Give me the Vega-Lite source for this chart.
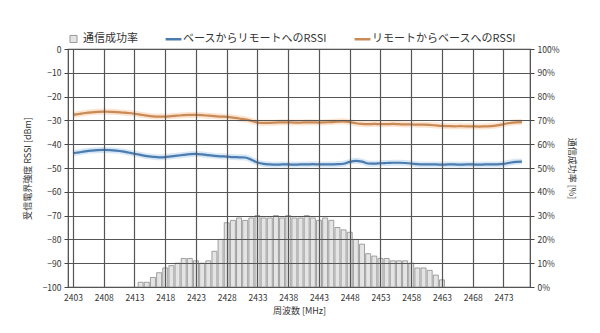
{
  "$schema": "https://vega.github.io/schema/vega-lite/v6.json",
  "autosize": {"type": "none"},
  "width": 462,
  "height": 238,
  "padding": {"left": 68, "top": 49, "right": 70, "bottom": 46},
  "background": "white",
  "config": {
    "font": "Noto Sans CJK JP",
    "view": {"stroke": "#444", "strokeWidth": 1.2},
    "axis": {"labelFontSize": 8.5, "labelColor": "#333", "titleFontSize": 9, "titleFontWeight": "normal", "titleColor": "#333", "gridColor": "#555", "gridWidth": 1.2, "gridOpacity": 1, "tickColor": "#444", "domain": false, "labelOverlap": false}
  },
  "datasets": {
    "rate": [
      {"f": 2414, "rate": 2}, {"f": 2415, "rate": 2}, {"f": 2416, "rate": 4}, {"f": 2417, "rate": 6},
      {"f": 2418, "rate": 8}, {"f": 2419, "rate": 9}, {"f": 2420, "rate": 10}, {"f": 2421, "rate": 12},
      {"f": 2422, "rate": 12}, {"f": 2423, "rate": 11}, {"f": 2424, "rate": 10}, {"f": 2425, "rate": 11},
      {"f": 2426, "rate": 15}, {"f": 2427, "rate": 20}, {"f": 2428, "rate": 27}, {"f": 2429, "rate": 28},
      {"f": 2430, "rate": 29}, {"f": 2431, "rate": 28}, {"f": 2432, "rate": 29}, {"f": 2433, "rate": 30},
      {"f": 2434, "rate": 29}, {"f": 2435, "rate": 29}, {"f": 2436, "rate": 30}, {"f": 2437, "rate": 29},
      {"f": 2438, "rate": 30}, {"f": 2439, "rate": 29}, {"f": 2440, "rate": 29}, {"f": 2441, "rate": 30},
      {"f": 2442, "rate": 29}, {"f": 2443, "rate": 28}, {"f": 2444, "rate": 29}, {"f": 2445, "rate": 28},
      {"f": 2446, "rate": 25}, {"f": 2447, "rate": 24}, {"f": 2448, "rate": 23}, {"f": 2449, "rate": 20},
      {"f": 2450, "rate": 18}, {"f": 2451, "rate": 14}, {"f": 2452, "rate": 13}, {"f": 2453, "rate": 12},
      {"f": 2454, "rate": 12}, {"f": 2455, "rate": 11}, {"f": 2456, "rate": 11}, {"f": 2457, "rate": 11},
      {"f": 2458, "rate": 10}, {"f": 2459, "rate": 8}, {"f": 2460, "rate": 8}, {"f": 2461, "rate": 7},
      {"f": 2462, "rate": 5}, {"f": 2463, "rate": 3}
    ],
    "rssi": [
      {"f": 2403, "b": -43.8, "r": -27.7}, {"f": 2404, "b": -43.4, "r": -27.3}, {"f": 2405, "b": -43.0, "r": -26.9},
      {"f": 2406, "b": -42.7, "r": -26.6}, {"f": 2407, "b": -42.5, "r": -26.4}, {"f": 2408, "b": -42.4, "r": -26.3},
      {"f": 2409, "b": -42.5, "r": -26.4}, {"f": 2410, "b": -42.7, "r": -26.5}, {"f": 2411, "b": -43.0, "r": -26.7},
      {"f": 2412, "b": -43.5, "r": -26.9}, {"f": 2413, "b": -44.0, "r": -27.2}, {"f": 2414, "b": -44.5, "r": -27.6},
      {"f": 2415, "b": -45.0, "r": -28.0}, {"f": 2416, "b": -45.3, "r": -28.3}, {"f": 2417, "b": -45.5, "r": -28.4},
      {"f": 2418, "b": -45.4, "r": -28.4}, {"f": 2419, "b": -45.1, "r": -28.2}, {"f": 2420, "b": -44.8, "r": -28.0},
      {"f": 2421, "b": -44.5, "r": -27.8}, {"f": 2422, "b": -44.2, "r": -27.7}, {"f": 2423, "b": -44.1, "r": -27.7},
      {"f": 2424, "b": -44.3, "r": -27.8}, {"f": 2425, "b": -44.6, "r": -28.0}, {"f": 2426, "b": -44.9, "r": -28.2},
      {"f": 2427, "b": -45.1, "r": -28.4}, {"f": 2428, "b": -45.2, "r": -28.5}, {"f": 2429, "b": -45.4, "r": -28.8},
      {"f": 2430, "b": -45.5, "r": -29.2}, {"f": 2431, "b": -45.6, "r": -29.6}, {"f": 2432, "b": -46.5, "r": -30.2},
      {"f": 2433, "b": -47.7, "r": -30.9}, {"f": 2434, "b": -48.3, "r": -31.0}, {"f": 2435, "b": -48.5, "r": -31.0},
      {"f": 2436, "b": -48.6, "r": -30.9}, {"f": 2437, "b": -48.5, "r": -30.8}, {"f": 2438, "b": -48.5, "r": -30.8},
      {"f": 2439, "b": -48.6, "r": -30.9}, {"f": 2440, "b": -48.5, "r": -30.9}, {"f": 2441, "b": -48.5, "r": -30.8},
      {"f": 2442, "b": -48.4, "r": -30.8}, {"f": 2443, "b": -48.5, "r": -30.9}, {"f": 2444, "b": -48.5, "r": -30.8},
      {"f": 2445, "b": -48.5, "r": -30.7}, {"f": 2446, "b": -48.4, "r": -30.5}, {"f": 2447, "b": -48.2, "r": -30.4},
      {"f": 2448, "b": -47.4, "r": -30.7}, {"f": 2449, "b": -47.0, "r": -31.2}, {"f": 2450, "b": -47.3, "r": -31.5},
      {"f": 2451, "b": -48.1, "r": -31.6}, {"f": 2452, "b": -48.2, "r": -31.5}, {"f": 2453, "b": -48.0, "r": -31.6},
      {"f": 2454, "b": -47.9, "r": -31.6}, {"f": 2455, "b": -47.8, "r": -31.5}, {"f": 2456, "b": -47.8, "r": -31.6},
      {"f": 2457, "b": -47.9, "r": -31.7}, {"f": 2458, "b": -48.1, "r": -31.7}, {"f": 2459, "b": -48.4, "r": -31.8},
      {"f": 2460, "b": -48.5, "r": -31.8}, {"f": 2461, "b": -48.5, "r": -31.9}, {"f": 2462, "b": -48.5, "r": -32.1},
      {"f": 2463, "b": -48.6, "r": -32.3}, {"f": 2464, "b": -48.5, "r": -32.4}, {"f": 2465, "b": -48.5, "r": -32.5},
      {"f": 2466, "b": -48.6, "r": -32.4}, {"f": 2467, "b": -48.5, "r": -32.5}, {"f": 2468, "b": -48.5, "r": -32.5},
      {"f": 2469, "b": -48.6, "r": -32.6}, {"f": 2470, "b": -48.5, "r": -32.5}, {"f": 2471, "b": -48.5, "r": -32.4},
      {"f": 2472, "b": -48.5, "r": -32.1}, {"f": 2473, "b": -48.3, "r": -31.6}, {"f": 2474, "b": -47.8, "r": -31.1},
      {"f": 2475, "b": -47.4, "r": -30.8}, {"f": 2476, "b": -47.3, "r": -30.7}
    ]
  },
  "layer": [
    {
      "data": {"name": "rate"},
      "mark": {"type": "bar", "size": 5, "fill": "#e4e4e4", "stroke": "#8c8c8c", "strokeWidth": 0.8},
      "encoding": {
        "x": {"field": "f", "type": "quantitative", "scale": {"domain": [2403, 2476.5], "nice": false, "zero": false},
          "axis": {"values": [2403, 2408, 2413, 2418, 2423, 2428, 2433, 2438, 2443, 2448, 2453, 2458, 2463, 2468, 2473], "tickCount": 30, "format": "d", "title": "周波数 [MHz]", "grid": true, "ticks": false, "labelPadding": 6, "titlePadding": 5, "zindex": 1}},
        "y": {"field": "rate", "type": "quantitative", "scale": {"domain": [0, 100], "nice": false},
          "axis": {"orient": "right", "values": [0, 10, 20, 30, 40, 50, 60, 70, 80, 90, 100], "tickCount": 20, "labelExpr": "datum.value + '%'", "grid": false, "tickSize": 4, "labelPadding": 3, "title": "通信成功率 [%]", "titlePadding": 8}}
      }
    },
    {
      "data": {"name": "rssi"},
      "transform": [{"fold": ["b", "r"], "as": ["series", "rssi"]}],
      "encoding": {
        "x": {"field": "f", "type": "quantitative"},
        "y": {"field": "rssi", "type": "quantitative", "scale": {"domain": [-100, 0], "nice": false},
          "axis": {"orient": "left", "values": [-100, -90, -80, -70, -60, -50, -40, -30, -20, -10, 0], "tickCount": 20, "grid": true, "tickSize": 4, "labelPadding": 3, "title": "受信電界強度 RSSI [dBm]", "titlePadding": 10, "zindex": 1}}
      },
      "layer": [
        {"mark": {"type": "line", "strokeWidth": 6, "opacity": 0.35, "interpolate": "monotone"},
         "encoding": {"stroke": {"field": "series", "type": "nominal", "scale": {"domain": ["b", "r"], "range": ["#8fbbe6", "#f5b27a"]}, "legend": null}}},
        {"mark": {"type": "line", "strokeWidth": 2.2, "interpolate": "monotone"},
         "encoding": {
          "color": {"field": "series", "type": "nominal",
            "scale": {"domain": ["s", "b", "r"], "range": ["#9a9a9a", "#4a7cb0", "#c98a55"]},
            "legend": {"orient": "top", "direction": "horizontal", "title": null, "offset": 4, "labelFontSize": 11, "labelColor": "#333", "symbolType": "stroke", "symbolSize": 250, "columnPadding": 22, "labelLimit": 300,
              "labelExpr": "datum.value == 's' ? '通信成功率' : datum.value == 'b' ? 'ベースからリモートへのRSSI' : 'リモートからベースへのRSSI'",
              "encode": {"symbols": {"update": {
                "shape": {"signal": "datum.value == 's' ? 'square' : 'stroke'"},
                "size": {"signal": "datum.value == 's' ? 50 : 250"},
                "fill": {"signal": "datum.value == 's' ? '#e4e4e4' : 'transparent'"},
                "stroke": {"signal": "datum.value == 's' ? '#8c8c8c' : datum.value == 'b' ? '#4a7cb0' : '#c98a55'"},
                "strokeWidth": {"signal": "datum.value == 's' ? 1 : 2.5"}
              }}}}
          }
         }}
      ],
      "resolve": {"scale": {"stroke": "independent"}}
    }
  ],
  "resolve": {"scale": {"y": "independent"}}
}
